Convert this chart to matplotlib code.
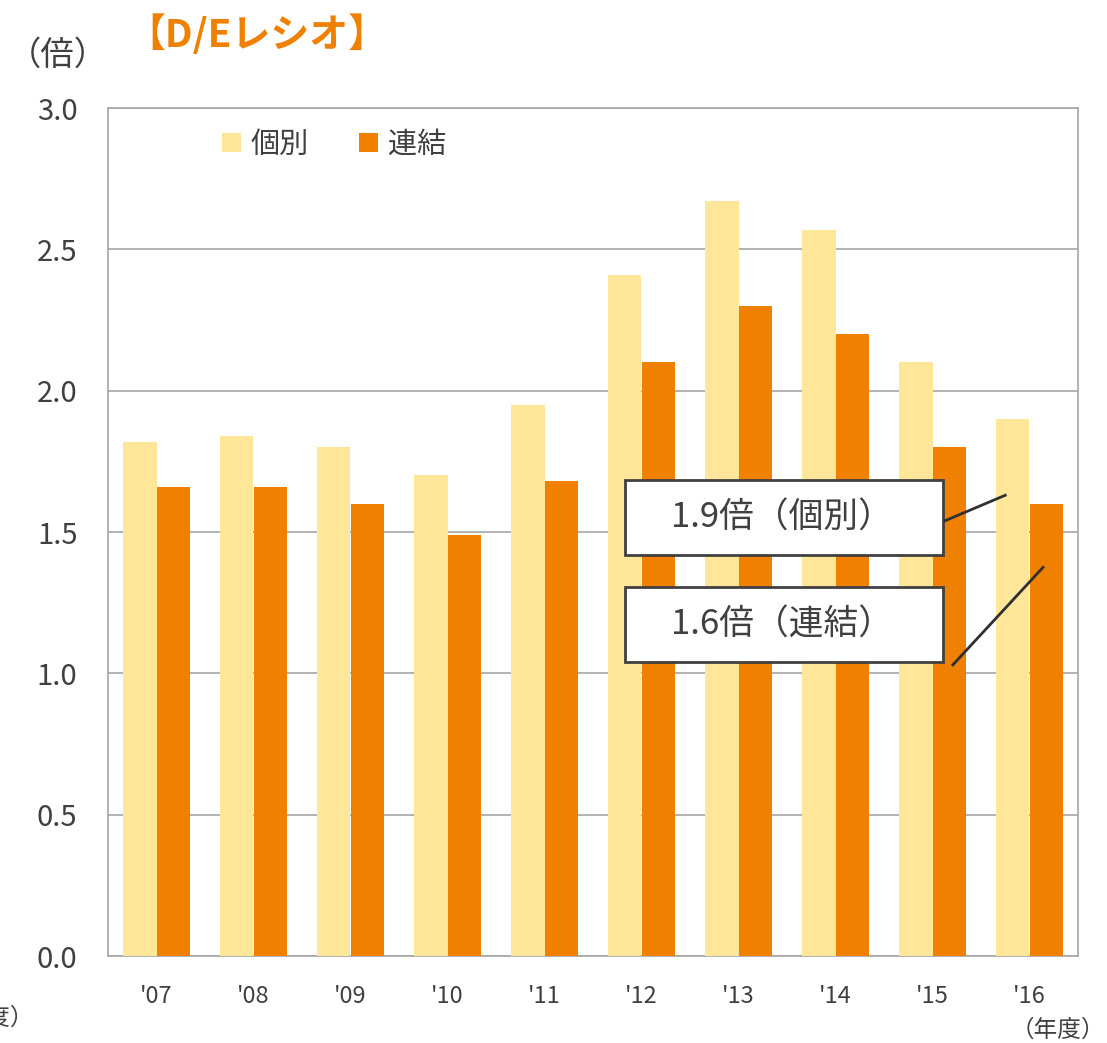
import numpy as np
import matplotlib.pyplot as plt
from matplotlib.patches import Rectangle

plt.rcParams['font.family'] = ['Noto Sans CJK JP', 'DejaVu Sans']

years = ["'07", "'08", "'09", "'10", "'11", "'12", "'13", "'14", "'15", "'16"]
kobetsu = [1.82, 1.84, 1.80, 1.70, 1.95, 2.41, 2.67, 2.57, 2.10, 1.90]
renketsu = [1.66, 1.66, 1.60, 1.49, 1.68, 2.10, 2.30, 2.20, 1.80, 1.60]
yticks = [0.0, 0.5, 1.0, 1.5, 2.0, 2.5, 3.0]

c_light = '#FFE699'
c_orange = '#F08000'
c_text = '#404040'

fig = plt.figure(figsize=(11.07, 10.43), dpi=100)
ax = fig.add_axes([108/1107, 1 - 956/1043, 970/1107, 848/1043])

x = np.arange(len(years))
w = 0.35
ax.bar(x - w/2, kobetsu, w, color=c_light, label='個別', zorder=3)
ax.bar(x + w/2, renketsu, w, color=c_orange, label='連結', zorder=3)

ax.set_xlim(-0.5, len(years) - 0.5)
ax.set_ylim(0, 3.0)
ax.set_yticks(yticks)
ax.set_yticklabels([f'{v:.1f}' for v in yticks], fontsize=21, color=c_text)
ax.set_xticks(x)
ax.set_xticklabels(years, fontsize=17, color=c_text)
ax.tick_params(axis='y', length=0, pad=22)
ax.tick_params(axis='x', length=0, pad=21)
ax.grid(axis='y', color='#A6A6A6', linewidth=1.2, zorder=0)
for s in ax.spines.values():
    s.set_color('#A6A6A6')
    s.set_linewidth(1.2)

leg = ax.legend(loc='upper left', bbox_to_anchor=(0.09, 1.005), ncol=2, frameon=False,
                fontsize=21, handlelength=0.65, handleheight=0.65, columnspacing=1.7,
                handletextpad=0.35)
for t in leg.get_texts():
    t.set_color(c_text)

# 注記ボックス
for y0 in (1.42, 1.04):
    ax.add_patch(Rectangle((4.83, y0), 3.28, 0.265, facecolor='white', edgecolor='#404040',
                           linewidth=2, zorder=4))
ax.text(6.45, 1.55, '1.9倍（個別）', fontsize=25, color=c_text, ha='center', va='center', zorder=5)
ax.text(6.45, 1.17, '1.6倍（連結）', fontsize=25, color=c_text, ha='center', va='center', zorder=5)
ax.plot([8.13, 8.75], [1.54, 1.63], color='#303030', linewidth=2, zorder=5)
ax.plot([8.21, 9.14], [1.03, 1.375], color='#303030', linewidth=2, zorder=5)

fig.text(8/1107, 1 - 55/1043, '（倍）', fontsize=24, color=c_text, va='center', ha='left')
fig.text(126/1107, 1 - 35/1043, '【D/Eレシオ】', fontsize=28, color=c_orange,
         fontweight='bold', va='center', ha='left')
fig.text(1105/1107, 1 - 1030/1043, '（年度）', fontsize=17, color=c_text, va='center', ha='right')
fig.text(34/1107, 1 - 1018/1043, '（年度）', fontsize=17, color=c_text, va='center', ha='right')

fig.savefig('out.png', dpi=100)
